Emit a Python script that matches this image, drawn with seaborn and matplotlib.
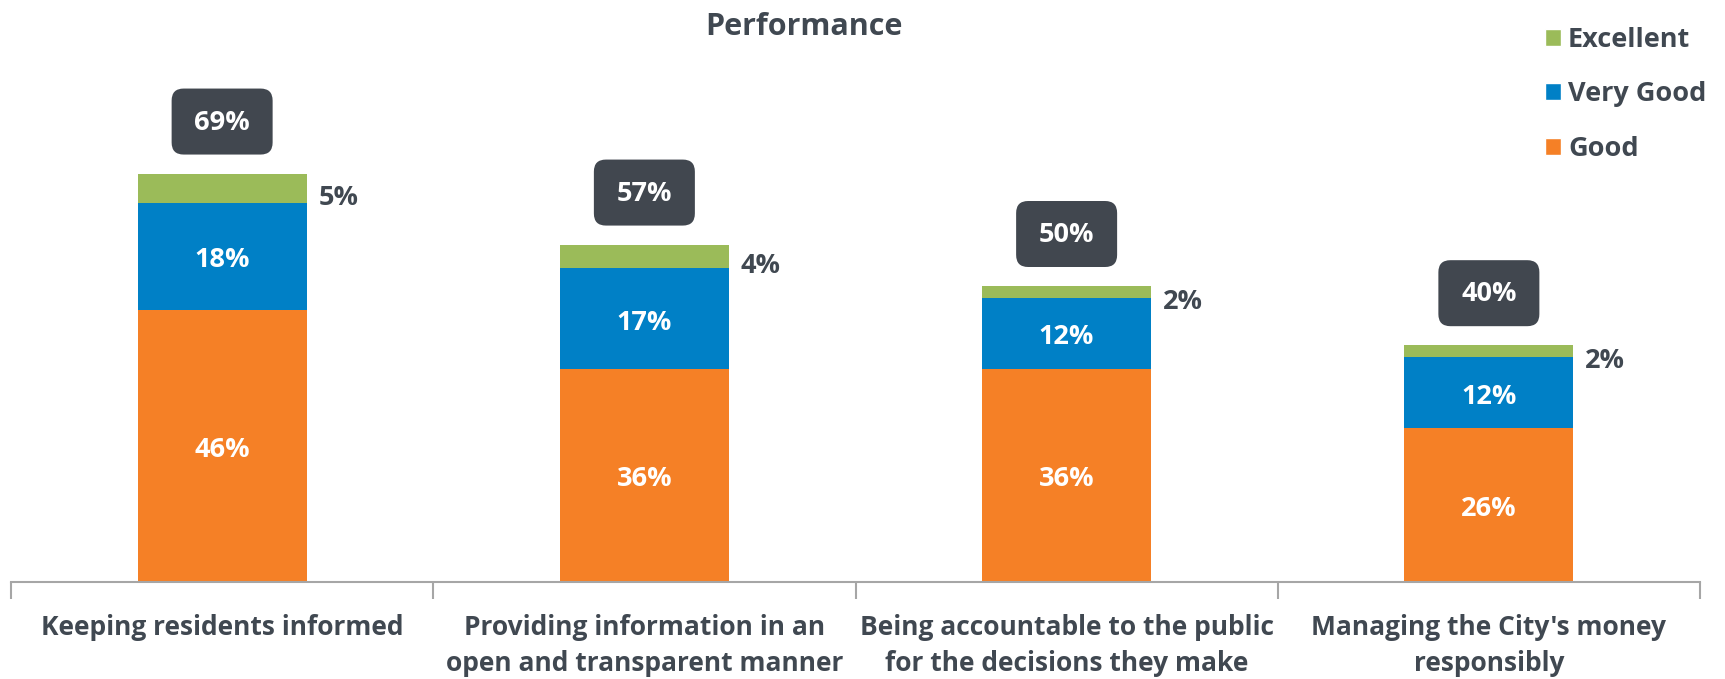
import matplotlib
matplotlib.use("Agg")
import matplotlib.pyplot as plt
import matplotlib.transforms as mtransforms
from matplotlib.patches import FancyBboxPatch, Patch
import numpy as np
import pandas as pd
import seaborn as sns

categories = ["Keeping residents informed",
              "Providing information in an\nopen and transparent manner",
              "Being accountable to the public\nfor the decisions they make",
              "Managing the City's money\nresponsibly"]
good = [46, 36, 36, 26]
very_good = [18, 17, 12, 12]
excellent = [5, 4, 2, 2]
totals = [69, 57, 50, 40]
series_names = ["Excellent", "Very Good", "Good"]

C_GREEN = "#9BBB59"
C_BLUE = "#0080C6"
C_ORANGE = "#F58026"
C_TEXT = "#404851"
C_BOX = "#41474F"
C_AXIS = "#A6A6A6"

FS = 19.5

sns.set_theme(style="white")
plt.rcParams['font.family'] = ['Open Sans', 'DejaVu Sans']
plt.rcParams['font.weight'] = 'bold'

fig = plt.figure(figsize=(17.25, 6.79), dpi=100)
ax = fig.add_axes([11/1725, 97/679, 1689/1725, 580/679])

g = np.array(good)
vg = np.array(very_good)
ex = np.array(excellent)
df = pd.DataFrame({"cat": categories, "good": g, "vg": g + vg, "ex": g + vg + ex})

for col, c in [("ex", C_GREEN), ("vg", C_BLUE), ("good", C_ORANGE)]:
    sns.barplot(data=df, x="cat", y=col, color=c, saturation=1, width=0.4,
                ax=ax, linewidth=0, order=categories)

ax.set_xlim(-0.5, len(categories) - 0.5)
ax.set_ylim(0, 98)
for s in ["top", "left", "right"]:
    ax.spines[s].set_visible(False)
ax.spines["bottom"].set_color(C_AXIS)
ax.spines["bottom"].set_linewidth(1.5)
ax.set_yticks([])
ax.set_xlabel("")
ax.set_ylabel("")
ax.set_xticks(range(len(categories)))
ax.set_xticklabels(categories, fontsize=FS - 0.5, fontweight="bold", color=C_TEXT,
                   linespacing=1.42)
ax.tick_params(axis="x", which="major", length=0, pad=23)
ax.set_xticks(np.arange(-0.5, len(categories), 1.0), minor=True)
ax.tick_params(axis="x", which="minor", length=12, width=1.5, color=C_AXIS,
               direction="out", bottom=True)

for i in range(len(categories)):
    ax.annotate(f"{g[i]}%", xy=(i, g[i] / 2), xytext=(0, -4),
                textcoords="offset pixels", ha="center", va="center",
                color="white", fontsize=FS, fontweight="bold")
    ax.annotate(f"{vg[i]}%", xy=(i, g[i] + vg[i] / 2), xytext=(0, -4),
                textcoords="offset pixels", ha="center", va="center",
                color="white", fontsize=FS, fontweight="bold")
    ax.annotate(f"{ex[i]}%", xy=(i + 0.2, g[i] + vg[i] + ex[i] / 2),
                xytext=(12, -10), textcoords="offset pixels", ha="left",
                va="center", color=C_TEXT, fontsize=FS, fontweight="bold")
    yc = totals[i] + 8.8
    tr = mtransforms.ScaledTranslation(i, yc, ax.transData)
    box = FancyBboxPatch((-50.5, -33), 101, 66,
                         boxstyle="round,pad=0,rounding_size=12",
                         transform=tr, facecolor=C_BOX, edgecolor="none",
                         clip_on=False)
    ax.add_patch(box)
    ax.annotate(f"{totals[i]}%", xy=(i, yc), xytext=(0, -1),
                textcoords="offset pixels", ha="center", va="center",
                color="white", fontsize=FS, fontweight="bold")

fig.text(804/1725, 1 - 27/679, "Performance", ha="center", va="center",
         fontsize=22, fontweight="bold", color=C_TEXT)

handles = [Patch(facecolor=C_GREEN, label=series_names[0]),
           Patch(facecolor=C_BLUE, label=series_names[1]),
           Patch(facecolor=C_ORANGE, label=series_names[2])]
leg = fig.legend(handles=handles, loc="upper left",
                 bbox_to_anchor=(1545/1725, 1 - 27/679), frameon=False,
                 handlelength=0.6, handleheight=0.6, handletextpad=0.25,
                 labelspacing=1.05, borderaxespad=0, borderpad=0,
                 prop={"size": FS, "weight": "bold"})
for t in leg.get_texts():
    t.set_color(C_TEXT)

fig.savefig("out.png", dpi=100)
